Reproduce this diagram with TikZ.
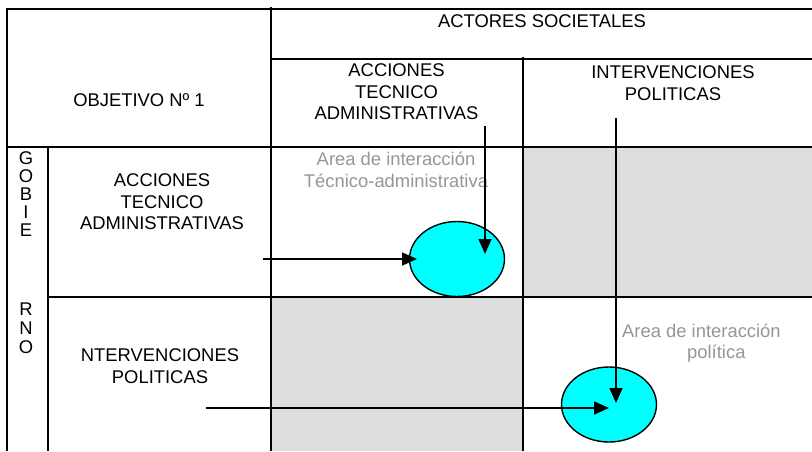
\documentclass[tikz,border=0pt]{standalone}
\usepackage{fontspec}
\setmainfont{Liberation Sans}
\usetikzlibrary{arrows.meta}
\usetikzlibrary{shapes.geometric}

\definecolor{celda}{RGB}{221,221,221}
\definecolor{cian}{RGB}{0,255,255}
\definecolor{gristexto}{RGB}{150,150,150}

\tikzset{
  rejilla/.style={line width=1.8pt},
  flecha/.style={line width=1.6pt,-{Triangle[length=15pt,width=13pt]}},
  zona/.style={ellipse,draw,line width=1.4pt,fill=cian,minimum width=95pt,minimum height=75pt,inner sep=0},
  titulo/.style={align=center,font=\fontsize{18.4}{21.5}\selectfont,inner sep=0},
  nota/.style={titulo,text=gristexto}
}

\begin{document}
\begin{tikzpicture}[x=1pt,y=-1pt]
\useasboundingbox (0,0) rectangle (812,451);

% celdas grises
\fill [celda] (523,147) rectangle (812,297);
\fill [celda] (271,297) rectangle (523,451);

% rejilla
\draw [rejilla] (7,451) -- (7,9) -- (812,9);
\draw [rejilla] (271,7) -- (271,451);
\draw [rejilla] (271,59) -- (812,59);
\draw [rejilla] (523,57) -- (523,451);
\draw [rejilla] (7,147) -- (812,147);
\draw [rejilla] (48,147) -- (48,451);
\draw [rejilla] (48,297) -- (812,297);

% encabezados
\node (obj) at (139,100) [titulo] {OBJETIVO Nº 1};
\node (act) at (542,21) [titulo] {ACTORES SOCIETALES};
\node (cta) at (396.5,92) [titulo] {ACCIONES\\TECNICO\\ADMINISTRATIVAS};
\node (cpo) at (673,83) [titulo] {INTERVENCIONES\\POLITICAS};
\node (fta) at (162,202) [titulo] {ACCIONES\\TECNICO\\ADMINISTRATIVAS};
\node (fpo) at (160,366) [titulo] {NTERVENCIONES\\POLITICAS};

\foreach \l [count=\i] in {G,O,B,I,E}
  \node (g\i) at (26,140+18*\i) [titulo] {\l};
\foreach \l [count=\i] in {R,N,O}
  \node (r\i) at (26,290+19*\i) [titulo] {\l};

% zonas de interaccion
\node (zta) at (457,259) [zona] {};
\node (zpo) at (609,404.5) [zona] {};
\node (nta) at (396,170) [nota] {Area de interacción\\Técnico-administrativa};
\node (npo) at (622,343) [nota,anchor=west,align=left] {Area de interacción\\\hspace*{65pt}política};

% flechas
\coordinate (ata) at (263,259);
\coordinate (bta) at (485,126);
\coordinate (apo) at (206,408);
\coordinate (bpo) at (616,118);
\draw [flecha] (ata) -- ([xshift=-40pt]zta.center);
\draw [flecha] (bta) -- ([xshift=28pt,yshift=5pt]zta.center);
\draw [flecha] (apo) -- ([yshift=-3.5pt]zpo.center);
\draw [flecha] (bpo) -- ([xshift=7pt,yshift=1.5pt]zpo.center);
\end{tikzpicture}
\end{document}
